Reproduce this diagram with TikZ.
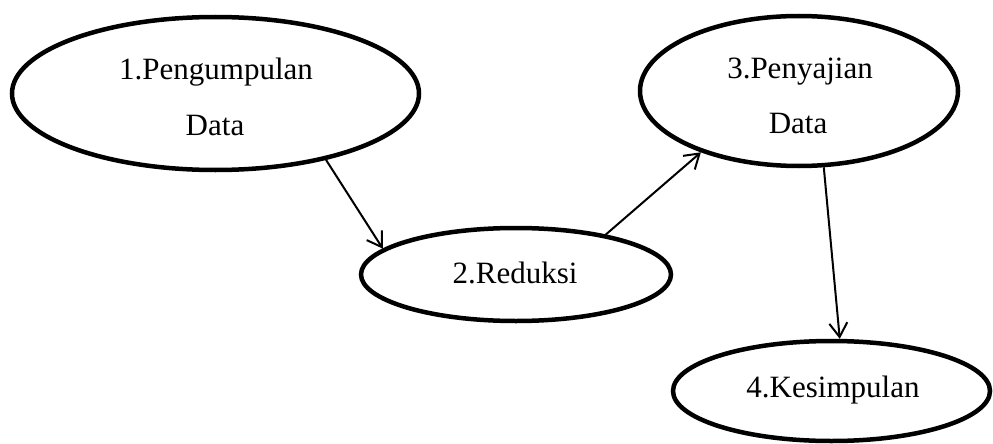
\documentclass[tikz,border=0pt]{standalone}
\usepackage{fontspec}
\setmainfont{Liberation Serif}
\usetikzlibrary{shapes.geometric,arrows.meta}
\tikzset{
  oval/.style={draw=black, line width=4.5pt, ellipse, inner sep=0pt},
  txt/.style={inner sep=0pt, anchor=base, font=\fontsize{31}{37}\selectfont},
  arr/.style={draw=black, line width=2pt, -{Straight Barb[length=14pt,width=18pt,line width=2pt]}}
}
\begin{document}
\begin{tikzpicture}[x=1pt,y=-1pt]
\useasboundingbox (0,0) rectangle (993,444);
\node[oval, minimum width=407pt, minimum height=153pt] (e1) at (215.5,93.5) {};
\node[oval, minimum width=310pt, minimum height=93pt] (e2) at (516,274.5) {};
\node[oval, minimum width=318pt, minimum height=150pt] (e3) at (799,91) {};
\node[oval, minimum width=317pt, minimum height=100pt] (e4) at (831.5,391) {};
\node[txt] (t1a) at (216,80) {1.Pengumpulan};
\node[txt] (t1b) at (215,135) {Data};
\node[txt] (t2) at (515,283) {2.Reduksi};
\node[txt] (t3a) at (800,78) {3.Penyajian};
\node[txt] (t3b) at (798,133) {Data};
\node[txt] (t4) at (833,397) {4.Kesimpulan};
\draw[arr] (e1.-31) -- (e2.169);
\draw[arr] (e2.24) -- (e3.-148);
\draw[arr] (e3.-72) -- (e4.81);
\end{tikzpicture}
\end{document}
